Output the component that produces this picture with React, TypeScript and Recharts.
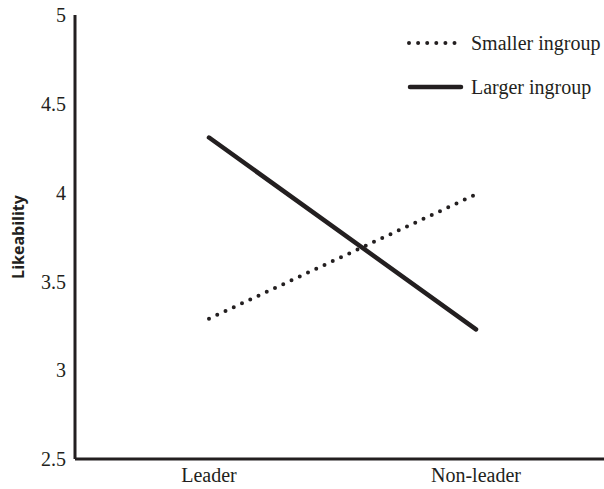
import { LineChart, Line, XAxis, YAxis } from 'recharts';

const groups = ['Leader', 'Non-leader'];
const smallerIngroup = [3.29, 3.99];
const largerIngroup = [4.31, 3.23];
const yTicks = [2.5, 3, 3.5, 4, 4.5, 5];

const ink = '#231f20';
const serif = '"Liberation Serif", "Times New Roman", serif';

const chartData = groups.map((g, i) => ({
  group: g,
  smaller: smallerIngroup[i],
  larger: largerIngroup[i],
}));

const legendItems = [
  { label: 'Smaller ingroup', dotted: true },
  { label: 'Larger ingroup', dotted: false },
];

function ChartLegend() {
  return (
    <div style={{ position: 'absolute', left: 407, top: 32, fontFamily: serif, fontSize: 20, color: ink }}>
      {legendItems.map((item, i) => (
        <div key={item.label} style={{ display: 'flex', alignItems: 'center', height: 22, marginBottom: i === 0 ? 22 : 0 }}>
          <svg width={64} height={10} style={{ display: 'block' }}>
            {item.dotted ? (
              <line x1={2} y1={5} x2={48} y2={5} stroke={ink} strokeWidth={4} strokeLinecap="round" strokeDasharray="0 9.1" />
            ) : (
              <line x1={3} y1={5} x2={54} y2={5} stroke={ink} strokeWidth={4.5} strokeLinecap="round" />
            )}
          </svg>
          <span style={{ whiteSpace: 'nowrap', lineHeight: '22px' }}>{item.label}</span>
        </div>
      ))}
    </div>
  );
}

export default function App() {
  return (
    <div style={{ position: 'absolute', left: 0, top: 0, width: 604, height: 489, background: '#fff' }}>
      <LineChart width={604} height={489} data={chartData} margin={{ top: 15, right: 0, bottom: 0, left: 0 }}>
        <XAxis
          dataKey="group"
          padding={{ left: 134, right: 128 }}
          axisLine={{ stroke: ink, strokeWidth: 3 }}
          tickLine={false}
          tickSize={0}
          tickMargin={9}
          height={30}
          tick={{ fontFamily: serif, fontSize: 20, fill: ink }}
        />
        <YAxis
          domain={[2.5, 5]}
          ticks={yTicks}
          width={75}
          axisLine={{ stroke: ink, strokeWidth: 3 }}
          tickLine={false}
          tickSize={0}
          tickMargin={9}
          tick={{ fontFamily: serif, fontSize: 20, fill: ink }}
          label={{
            value: 'Likeability',
            angle: -90,
            position: 'insideLeft',
            offset: 18,
            style: { textAnchor: 'middle', fontFamily: '"Open Sans", "Noto Sans", sans-serif', fontWeight: 700, fontSize: 16, fill: ink },
          }}
        />
        <Line
          dataKey="smaller"
          stroke={ink}
          strokeWidth={4}
          strokeLinecap="round"
          strokeDasharray="0 9.1"
          dot={false}
          isAnimationActive={false}
        />
        <Line
          dataKey="larger"
          stroke={ink}
          strokeWidth={4.5}
          strokeLinecap="round"
          dot={false}
          isAnimationActive={false}
        />
      </LineChart>
      <ChartLegend />
    </div>
  );
}
